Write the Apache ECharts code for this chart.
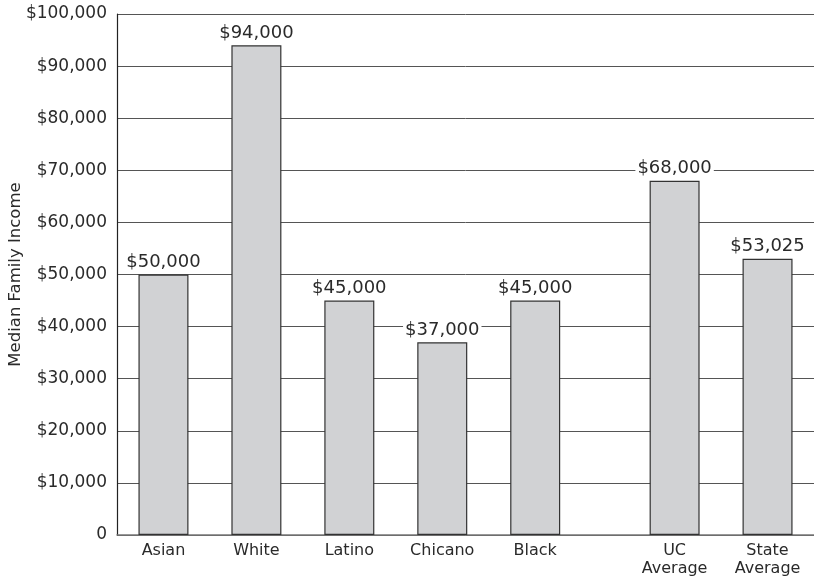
<!DOCTYPE html>
<html>
<head>
<meta charset="utf-8">
<script src="https://cdn.jsdelivr.net/npm/echarts@6/dist/echarts.min.js"></script>
<style>html,body{margin:0;padding:0;background:#fff}#c{width:814px;height:580px}</style>
</head>
<body>
<div id="c"></div>
<script>
// Slots along the x axis (blank slots give the half-spacing layout)
var categories = ['', 'Asian', '', 'White', '', 'Latino', '', 'Chicano', '', 'Black', '', '', 'UC\nAverage', '', 'State\nAverage', ''];
var incomes = [null, 50000, null, 94000, null, 45000, null, 37000, null, 45000, null, null, 68000, null, 53025, null];
var yMin = 0, yMax = 100000, yStep = 10000;
var yAxisTitle = 'Median Family Income';

function money(v) { return '$' + Number(v).toLocaleString('en-US'); }

var chart = echarts.init(document.getElementById('c'), null, {renderer: 'canvas'});
chart.setOption({
  animation: false,
  backgroundColor: '#fff',
  grid: {left: 117, right: 0, top: 14, bottom: 45, containLabel: false, outerBoundsMode: 'none'},
  xAxis: {
    type: 'category',
    data: categories,
    boundaryGap: false,
    axisLine: {show: true, lineStyle: {color: '#777', width: 1.5}},
    axisTick: {show: false},
    axisLabel: {interval: 0, color: '#2a2a2a', fontFamily: 'DejaVu Sans', fontSize: 16, margin: 7, lineHeight: 18},
    splitLine: {show: false}
  },
  yAxis: {
    type: 'value',
    min: yMin, max: yMax, interval: yStep,
    name: yAxisTitle,
    nameLocation: 'middle',
    nameGap: 93,
    nameMoveOverlap: false,
    nameRotate: 90,
    nameTextStyle: {color: '#2a2a2a', fontFamily: 'DejaVu Sans', fontSize: 16.5},
    axisLine: {show: true, lineStyle: {color: '#222', width: 1.2}},
    axisTick: {show: false},
    axisLabel: {color: '#2a2a2a', fontFamily: 'DejaVu Sans', fontSize: 17, margin: 10,
      formatter: function (v) { return v === 0 ? '0' : money(v); }},
    splitLine: {show: true, lineStyle: {color: '#555', width: 1}}
  },
  series: [{
    type: 'bar',
    data: incomes,
    barWidth: 50,
    itemStyle: {color: '#d1d2d4', borderColor: '#333', borderWidth: 1.2},
    label: {
      show: true, position: 'top', distance: 3,
      color: '#2a2a2a', fontFamily: 'DejaVu Sans', fontSize: 18,
      backgroundColor: '#fff', padding: [0, 2],
      formatter: function (p) { return money(p.value); }
    }
  }]
});
</script>
</body>
</html>
